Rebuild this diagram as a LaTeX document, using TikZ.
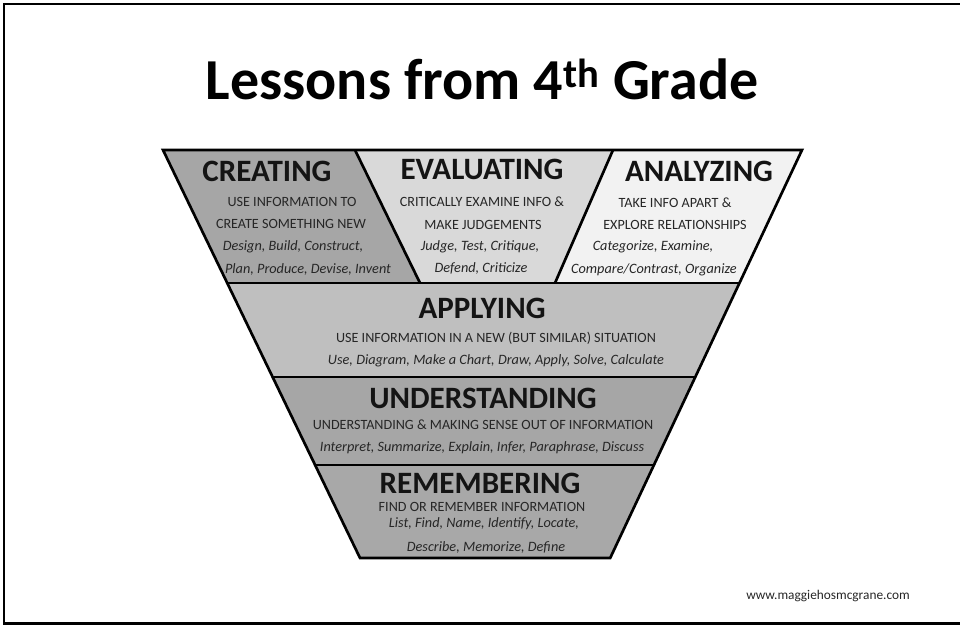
\documentclass[tikz,border=0pt]{standalone}
\usepackage{fontspec}
\setmainfont{Carlito}
\definecolor{cre}{HTML}{A6A6A6}
\definecolor{eva}{HTML}{D9D9D9}
\definecolor{ana}{HTML}{F2F2F2}
\definecolor{app}{HTML}{BFBFBF}
\definecolor{und}{HTML}{A6A6A6}
\definecolor{rem}{HTML}{A8A8A8}
\begin{document}
\begin{tikzpicture}[x=0.75pt,y=-0.75pt,
  lvl/.style={font=\bfseries\fontsize{23.3}{25}\selectfont, anchor=base, inner sep=0pt, text=black!92},
  sub/.style={font=\fontsize{10.6}{12}\selectfont, anchor=base, inner sep=0pt, text=black!85},
  ex/.style={font=\itshape\fontsize{10.7}{12}\selectfont, anchor=base, inner sep=0pt, text=black!85},
  edgeline/.style={draw=black, line width=2pt, line join=miter}]
\useasboundingbox (0,0) rectangle (960,627);
% frame
\draw[line width=2pt] (960,4) -- (4,4) -- (4,623.5) -- (960,623.5);
% title
\node[anchor=base, inner sep=0pt, font=\bfseries\fontsize{43.5}{48}\selectfont] (title) at (482,100) {Lessons from 4\textsuperscript{th} Grade};
% coordinates
\coordinate (a1) at (163,150);
\coordinate (a2) at (355,150);
\coordinate (a3) at (613,150);
\coordinate (a4) at (802,150);
\coordinate (b1) at (227,283);
\coordinate (b2) at (420,283);
\coordinate (b3) at (555,283);
\coordinate (b4) at (739.5,283);
\coordinate (c1) at (272.6,377);
\coordinate (c2) at (695.3,377);
\coordinate (d1) at (315.1,465);
\coordinate (d2) at (654,465);
\coordinate (e1) at (360,558);
\coordinate (e2) at (610.2,558);
% fills
\fill[cre] (a1) -- (a2) -- (b2) -- (b1) -- cycle;
\fill[eva] (a2) -- (a3) -- (b3) -- (b2) -- cycle;
\fill[ana] (a3) -- (a4) -- (b4) -- (b3) -- cycle;
\fill[app] (b1) -- (b4) -- (c2) -- (c1) -- cycle;
\fill[und] (c1) -- (c2) -- (d2) -- (d1) -- cycle;
\fill[rem] (d1) -- (d2) -- (e2) -- (e1) -- cycle;
% strokes
\draw[edgeline] (a1) -- (a4) -- (e2) -- (e1) -- cycle;
\draw[edgeline] (b1) -- (b4);
\draw[edgeline] (c1) -- (c2);
\draw[edgeline] (d1) -- (d2);
\draw[edgeline] (a2) -- (b2);
\draw[edgeline] (a3) -- (b3);
% CREATING
\node[lvl] (creT) at (267,182) {CREATING};
\node[sub] (creS1) at (292,206.5) {USE INFORMATION TO};
\node[sub] (creS2) at (291,228.5) {CREATE SOMETHING NEW};
\node[ex] (creE1) at (293,251) {Design, Build, Construct,};
\node[ex] (creE2) at (308,274) {Plan, Produce, Devise, Invent};
% EVALUATING
\node[lvl] (evaT) at (482,180) {EVALUATING};
\node[sub] (evaS1) at (482,206.5) {CRITICALLY EXAMINE INFO \&};
\node[sub] (evaS2) at (483,229.5) {MAKE JUDGEMENTS};
\node[ex] (evaE1) at (480,251) {Judge, Test, Critique,};
\node[ex] (evaE2) at (481,273) {Defend, Criticize};
% ANALYZING
\node[lvl] (anaT) at (699,182) {ANALYZING};
\node[sub] (anaS1) at (675,207.5) {TAKE INFO APART \&};
\node[sub] (anaS2) at (675,229.5) {EXPLORE RELATIONSHIPS};
\node[ex] (anaE1) at (653,251) {Categorize, Examine,};
\node[ex] (anaE2) at (654,274) {Compare/Contrast, Organize};
% APPLYING
\node[lvl] (appT) at (482,318) {APPLYING};
\node[sub] (appS) at (496,342.5) {USE INFORMATION IN A NEW (BUT SIMILAR) SITUATION};
\node[ex] (appE) at (496,364) {Use, Diagram, Make a Chart, Draw, Apply, Solve, Calculate};
% UNDERSTANDING
\node[lvl] (undT) at (483,408) {UNDERSTANDING};
\node[sub] (undS) at (483,429.5) {UNDERSTANDING \& MAKING SENSE OUT OF INFORMATION};
\node[ex] (undE) at (482,451) {Interpret, Summarize, Explain, Infer, Paraphrase, Discuss};
% REMEMBERING
\node[lvl] (remT) at (480,493) {REMEMBERING};
\node[sub] (remS) at (482,511.5) {FIND OR REMEMBER INFORMATION};
\node[ex] (remE1) at (484,527) {List, Find, Name, Identify, Locate,};
\node[ex] (remE2) at (486,551) {Describe, Memorize, Define};
% url
\node[anchor=base, inner sep=0pt, font=\fontsize{10}{12}\selectfont, text=black!85] (url) at (828,599) {www.maggiehosmcgrane.com};
\end{tikzpicture}
\end{document}
